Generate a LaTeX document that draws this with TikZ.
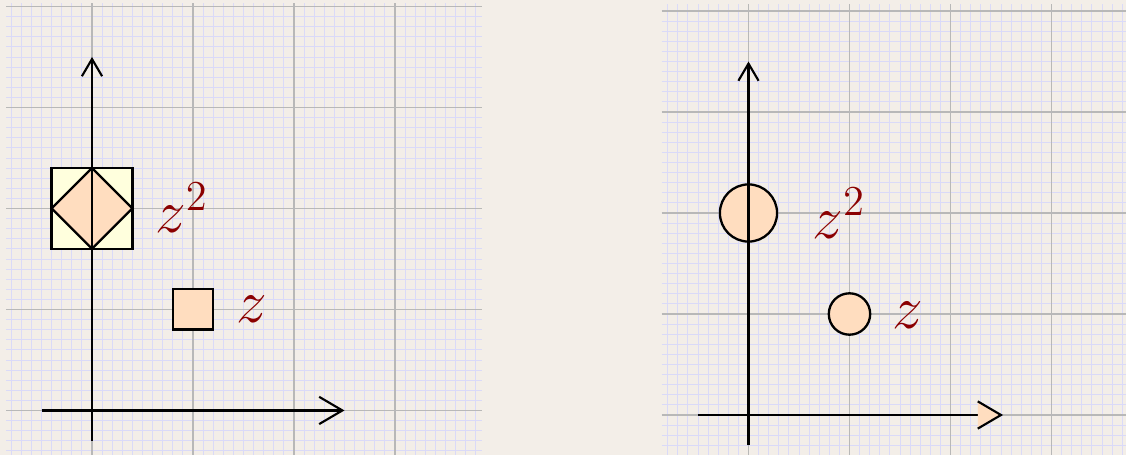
\documentclass[tikz,border=0pt]{standalone}
\usetikzlibrary{arrows.meta}
\definecolor{bg}{HTML}{F3EEE8}
\definecolor{minorc}{HTML}{DADAF8}
\definecolor{majorc}{HTML}{B8B8B8}
\definecolor{peach}{HTML}{FFDDBF}
\definecolor{lyellow}{HTML}{FFFFDD}
\definecolor{lab}{HTML}{8B0000}
\begin{document}
\begin{tikzpicture}[
 minorgrid/.style={draw=minorc,line width=0.25pt},
 majorgrid/.style={draw=majorc,line width=0.4pt},
 axisline/.style={line width=0.6pt,draw=black},
 shapeline/.style={line width=0.65pt,draw=black},
 lbl/.style={text=lab,font=\LARGE,inner sep=0pt,anchor=base west},
 xtip/.style={-{Straight Barb[length=0.23cm,width=0.27cm]}},
 ytip/.style={-{Straight Barb[length=0.17cm,width=0.20cm]}}
]
\fill[bg] (-0.911,-0.441) rectangle (10.238,4.064);
\useasboundingbox (-0.911,-0.441) rectangle (10.238,4.064);
% ---------- left panel ----------
\foreach \i in {-8,...,38} \draw[minorgrid] (\i/10,-0.441) -- (\i/10,4.03);
\foreach \j in {-4,...,40} \draw[minorgrid] (-0.85,\j/10) -- (3.86,\j/10);
\foreach \i in {0,...,3} \draw[majorgrid] (\i,-0.441) -- (\i,4.03);
\foreach \j in {0,...,4} \draw[majorgrid] (-0.85,\j) -- (3.86,\j);
\draw[shapeline,fill=lyellow] (-0.4,1.6) rectangle (0.4,2.4);
\draw[shapeline,fill=peach] (-0.4,2) -- (0,2.4) -- (0.4,2) -- (0,1.6) -- cycle;
\draw[shapeline,fill=peach] (0.8,0.8) rectangle (1.2,1.2);
\coordinate (lxa) at (-0.5,0);
\coordinate (lxb) at (2.5,0);
\coordinate (lya) at (0,-0.3);
\coordinate (lyb) at (0,3.5);
\draw[axisline,xtip] (lxa) -- (lxb);
\draw[axisline,ytip] (lya) -- (lyb);
\node[lbl] (z2l) at (0.62,1.76) {$z^2$};
\node[lbl] (zl) at (1.426,0.866) {$z$};
% ---------- right panel ----------
\begin{scope}[shift={(6.5,-0.045)}]
 \foreach \i in {-8,...,37} \draw[minorgrid] (\i/10,-0.40) -- (\i/10,4.07);
 \foreach \j in {-3,...,40} \draw[minorgrid] (-0.86,\j/10) -- (3.75,\j/10);
 \foreach \i in {0,...,3} \draw[majorgrid] (\i,-0.40) -- (\i,4.07);
 \foreach \j in {0,...,4} \draw[majorgrid] (-0.86,\j) -- (3.75,\j);
 \draw[shapeline,fill=peach] (0,2) circle (0.283);
 \draw[shapeline,fill=peach] (1,1) circle (0.205);
 \coordinate (rxa) at (-0.5,0);
 \coordinate (rxb) at (2.27,0);
 \coordinate (rya) at (0,-0.3);
 \coordinate (ryb) at (0,3.5);
 \draw[axisline] (rxa) -- (rxb);
 \draw[axisline,fill=peach] (2.27,0.135) -- (2.5,0) -- (2.27,-0.135);
 \draw[axisline,ytip] (rya) -- (ryb);
 \node[lbl] (z2r) at (0.626,1.75) {$z^2$};
 \node[lbl] (zr) at (1.42,0.86) {$z$};
\end{scope}
\end{tikzpicture}
\end{document}
